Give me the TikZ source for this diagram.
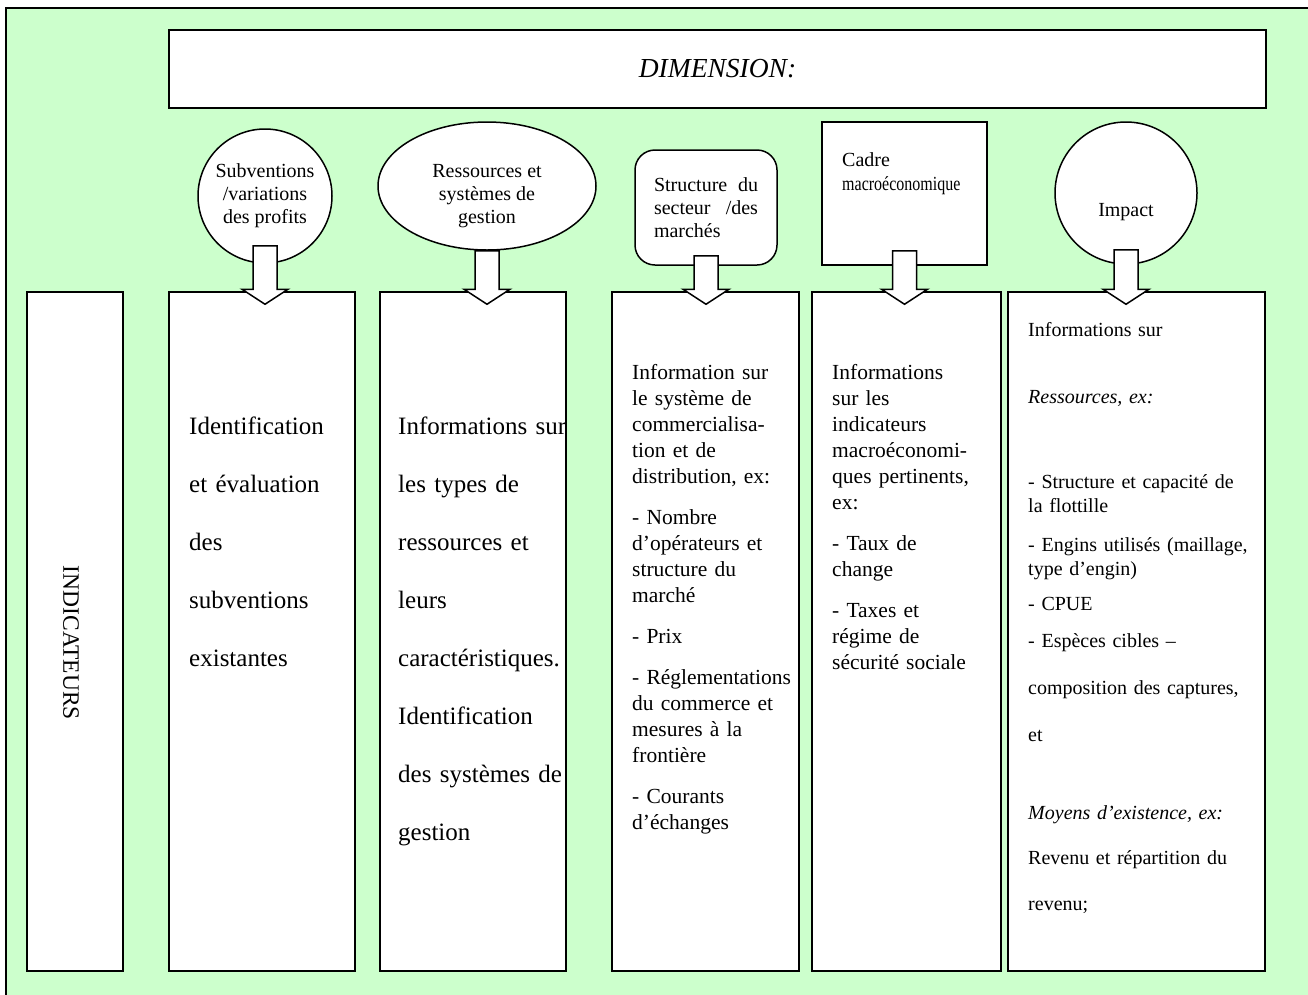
\documentclass[tikz,border=0pt]{standalone}
\usepackage{fontspec}
\setmainfont{Liberation Serif}
\usepackage{graphicx}
\usetikzlibrary{calc,shapes,positioning}
\definecolor{fondvert}{HTML}{CCFFCC}
\tikzset{DIM style/.style={x=1pt,y=-1pt,every node/.append style={inner sep=0pt}}}
\tikzset{boite/.style={draw,fill=white,line width=1.5pt},
	fleche/.style={draw,fill=white,line width=1.5pt,line join=miter}}
\newcommand{\taille}[2]{\fontsize{#1}{#2}\selectfont}
\newcommand{\fleche}[3]{%
	\draw[fleche] let \p1=(#1.south), \p2=(#2.north) in
	(\x1-12pt,\y1+#3) -- (\x1+12pt,\y1+#3) -- (\x1+12pt,\y2+2pt)
	-- (\x1+23pt,\y2+2pt) -- (\x1,\y2-13pt) -- (\x1-23pt,\y2+2pt)
	-- (\x1-12pt,\y2+2pt) -- cycle;}

\begin{document}
\begin{tikzpicture}[DIM style]
	\tikzstyle{colonne}=[boite, minimum width=187pt, minimum height=679pt]
	\tikzstyle{texte}=[anchor=base west, align=left, text width=172pt]
	\tikzstyle{forme}=[boite, align=center, font=\taille{20}{23}]
	
	\useasboundingbox (0,0) rectangle (1308,994);
	\draw[fill=fondvert,line width=2pt] (6,8) rectangle (1316,1002);
	
	\node[boite, minimum width=1097pt, minimum height=78pt,
	font=\taille{27.5}{30}\itshape] (dim) at (717.5,69) {DIMENSION:};
	
	% boites du bas
	\node[boite, minimum width=96pt, minimum height=679pt] (indic) at (75,631.5) {};
	\node[colonne, minimum width=186pt] (ident) at (262,631.5) {};
	\node[colonne, minimum width=186pt] (infres) at (473,631.5) {};
	\node[colonne] (infcom) at (705.5,631.5) {};
	\node[colonne, minimum width=189pt] (infmac) at (906.5,631.5) {};
	\node[colonne, minimum width=257pt] (infimp) at (1136.5,631.5) {};
	
	% formes du haut
	\node[forme, circle, minimum size=134pt] (subv) at (265,196)
	{Subventions\\/variations\\des profits};
	\node[boite, ellipse, minimum width=218pt, minimum height=128pt] (ress) at (487,186) {};
	\node[align=center, font=\taille{20}{23}] (ress-txt) at (487,196)
	{Ressources et\\systèmes de\\gestion};
	\node[boite, rounded corners=20pt, minimum width=142pt, minimum height=115pt,
	text width=104pt, align=left, font=\taille{20}{23}] (struct) at (706,207.5)
	{Structure\hfill du\\secteur\hfill /des\\marchés};
	\node[boite, minimum width=165pt, minimum height=143pt] (cadre) at (904.5,193.5) {};
	\node[anchor=base west, align=left, text width=140pt, font=\taille{20}{24}]
	(cadre-txt) at (842,166) {Cadre\\\scalebox{0.8}[1]{macroéconomique}};
	\node[boite, circle, minimum size=142pt] (impact) at (1126,193) {};
	\node[font=\taille{20}{23}] (impact-txt) at (1126,212) {Impact};
	
	\node[rotate=-90, font=\taille{23.5}{27}] (indic-txt) at (71,643) {INDICATEURS};
	
	\node[texte, font=\taille{25}{58}] (ident-txt) at (189,434)
	{Identification\\et évaluation\\des\\subventions\\existantes};
	\node[texte, font=\taille{25}{58}] (infres-txt) at (398,434)
	{Informations sur\\les types de\\ressources et\\leurs\\caractéristiques.\\
		Identification\\des systèmes de\\gestion};
	\node[texte, font=\taille{21.5}{26}] (infcom-txt) at (632,379)
	{Information sur\\le système de\\commercialisa-\\tion et de\\distribution, ex:\\[15pt]
		- Nombre\\d'opérateurs et\\structure du\\marché\\[15pt]
		- Prix\\[15pt]
		- Réglementations\\du commerce et\\mesures à la\\frontière\\[15pt]
		- Courants\\d'échanges};
	\node[texte, font=\taille{21.5}{26}] (infmac-txt) at (832,379)
	{Informations\\sur les\\indicateurs\\macroéconomi-\\ques pertinents,\\ex:\\[15pt]
		- Taux de\\change\\[15pt]
		- Taxes et\\régime de\\sécurité sociale};
	\node[texte, text width=230pt, font=\taille{20}{24}] (infimp-txt) at (1028,336)
	{Informations sur\\[43pt]
		\textit{Ressources, ex:}\\[61pt]
		- Structure et capacité de\\la flottille\\[15pt]
		- Engins utilisés (maillage,\\type d'engin)\\[11pt]
		- CPUE\\[13pt]
		- Espèces cibles --\\[23pt]
		composition des captures,\\[23pt]
		et\\[54pt]
		\textit{Moyens d'existence, ex:}\\[21pt]
		Revenu et répartition du\\[22pt]
		revenu;};
	
	\fleche{subv}{ident}{18pt}
	\fleche{ress}{infres}{0pt}
	\fleche{struct}{infcom}{10pt}
	\fleche{cadre}{infmac}{15pt}
	\fleche{impact}{infimp}{15pt}
\end{tikzpicture}
\end{document}
